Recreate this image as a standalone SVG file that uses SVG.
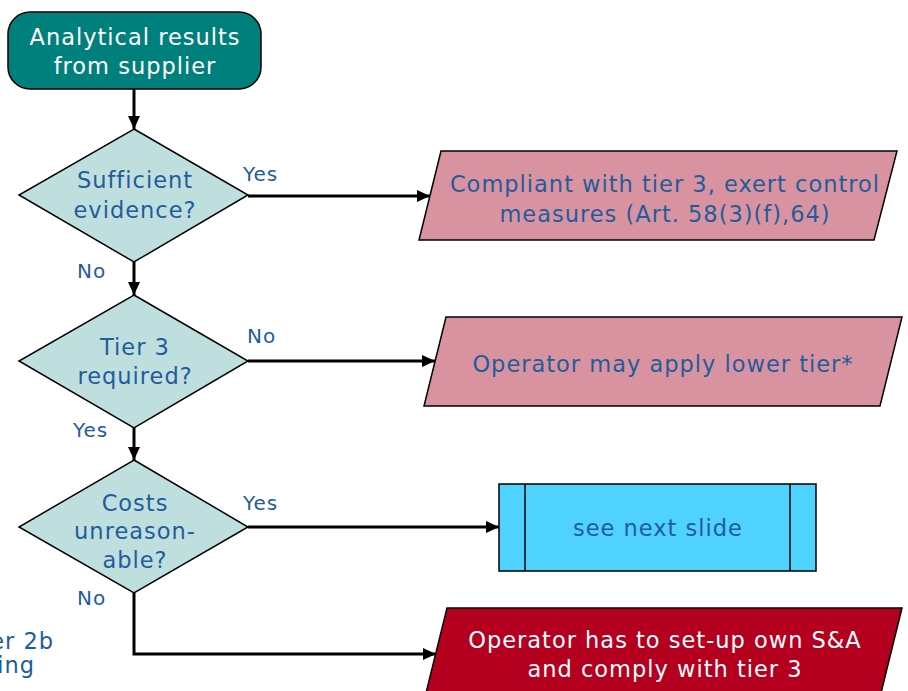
<svg xmlns="http://www.w3.org/2000/svg" width="908" height="691" viewBox="0 0 908 691">
<style>
text{font-family:"DejaVu Sans","Liberation Sans",sans-serif;}
.t{font-size:22.5px;letter-spacing:1px;fill:#1F5C9C;text-anchor:middle;}
.w{font-size:22.5px;letter-spacing:1px;fill:#FFFFFF;text-anchor:middle;}
.l{font-size:20px;letter-spacing:1px;fill:#1F5C9C;}
.dia{fill:#BFDFDF;stroke:#000;stroke-width:1.5;}
.pink{fill:#D993A0;stroke:#000;stroke-width:1.5;}
.c{fill:none;stroke:#000;stroke-width:3;}
</style>
<defs>
<marker id="ah" viewBox="0 0 13 12" refX="13" refY="6" markerWidth="13" markerHeight="12" markerUnits="userSpaceOnUse" orient="auto">
<path d="M0,0 L13,6 L0,12 Z" fill="#000"/>
</marker>
</defs>
<rect width="908" height="691" fill="#fff"/>
<g id="connectors">
<line class="c" x1="134" y1="89" x2="134" y2="129" marker-end="url(#ah)"/>
<line class="c" x1="248" y1="196" x2="430" y2="196" marker-end="url(#ah)"/>
<line class="c" x1="134" y1="262" x2="134" y2="295" marker-end="url(#ah)"/>
<line class="c" x1="248" y1="361" x2="435" y2="361" marker-end="url(#ah)"/>
<line class="c" x1="134" y1="428" x2="134" y2="460" marker-end="url(#ah)"/>
<line class="c" x1="248" y1="527" x2="499" y2="527" marker-end="url(#ah)"/>
<polyline class="c" points="134,593 134,654 436,654" marker-end="url(#ah)"/>
<text class="l" x="243" y="181">Yes</text>
<text class="l" x="77" y="278">No</text>
<text class="l" x="247" y="343">No</text>
<text class="l" x="73" y="437">Yes</text>
<text class="l" x="243" y="510">Yes</text>
<text class="l" x="77" y="605">No</text>
</g>
<g id="start">
<rect x="8" y="12" width="253" height="77" rx="22" fill="#00807C" stroke="#000" stroke-width="1.5"/>
<text class="w" x="135" y="45">Analytical results</text>
<text class="w" x="135" y="74">from supplier</text>
</g>
<g id="d1">
<polygon class="dia" points="134,129 248,195 134,262 19,195"/>
<text class="t" x="135" y="188">Sufficient</text>
<text class="t" x="135" y="218">evidence?</text>
</g>
<g id="d2">
<polygon class="dia" points="134,295 248,361 134,428 19,361"/>
<text class="t" x="135" y="355">Tier 3</text>
<text class="t" x="135" y="384">required?</text>
</g>
<g id="d3">
<polygon class="dia" points="134,460 248,527 134,593 19,527"/>
<text class="t" x="135" y="511">Costs</text>
<text class="t" x="135" y="539">unreason-</text>
<text class="t" x="135" y="568">able?</text>
</g>
<g id="p1">
<polygon class="pink" points="441,151 897,151 874,240 419,240"/>
<text class="t" x="665" y="192">Compliant with tier 3, exert control</text>
<text class="t" x="665" y="222">measures (Art. 58(3)(f),64)</text>
</g>
<g id="p2">
<polygon class="pink" points="446,317 902,317 880,406 424,406"/>
<text class="t" x="663" y="372">Operator may apply lower tier*</text>
</g>
<g id="next">
<rect x="499" y="484" width="317" height="87" fill="#50D2FF" stroke="#000" stroke-width="1.5"/>
<line x1="525" y1="484" x2="525" y2="571" stroke="#000" stroke-width="1.5"/>
<line x1="790" y1="484" x2="790" y2="571" stroke="#000" stroke-width="1.5"/>
<text class="t" x="658" y="536">see next slide</text>
</g>
<g id="p3">
<polygon points="447,608 902,608 880,697 425,697" fill="#B4001E" stroke="#000" stroke-width="1.5"/>
<text class="w" x="665" y="648">Operator has to set-up own S&amp;A</text>
<text class="w" x="665" y="677">and comply with tier 3</text>
</g>
<g id="note">
<text class="t" x="54" y="649" style="text-anchor:end">er 2b</text>
<text class="t" x="35" y="673" style="text-anchor:end">ing</text>
</g>
</svg>
